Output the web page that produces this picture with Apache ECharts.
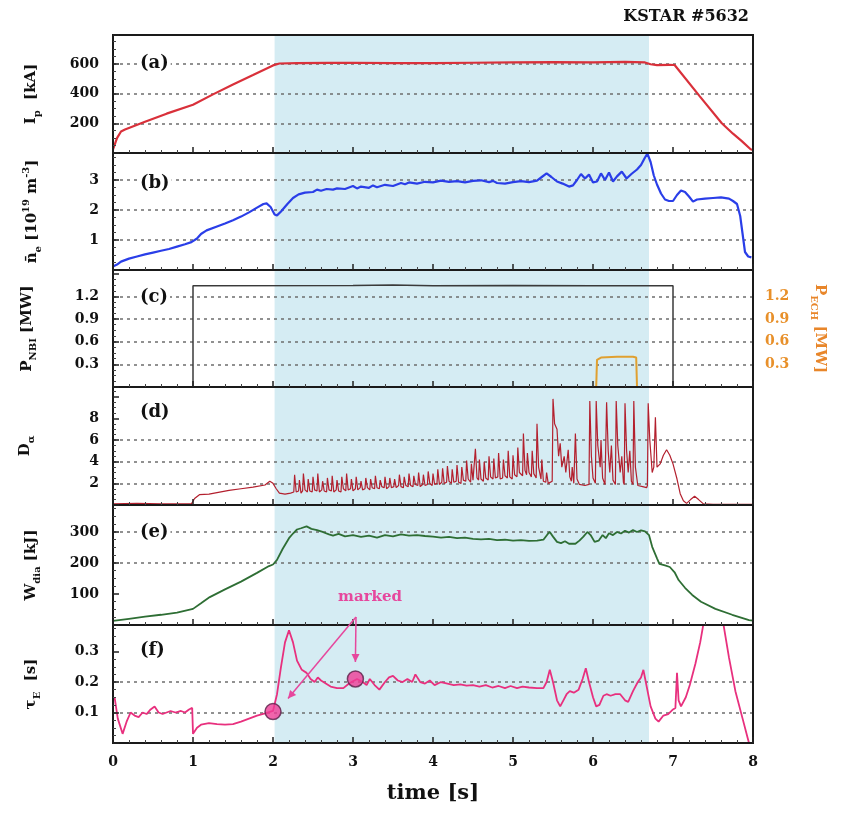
<!DOCTYPE html>
<html><head><meta charset="utf-8">
<script src="https://cdn.jsdelivr.net/npm/echarts@6/dist/echarts.min.js"></script>
<style>html,body{margin:0;padding:0;background:#fff}#c{width:864px;height:831px}</style>
</head><body><div id="c"></div>
<script>
// ---------------- DATA ----------------
const hModeWindow = [2.02, 6.7];
const ipData = [[0,25],[0.05,100],[0.1,145],[0.15,158],[0.4,210],[0.67,265],[1.0,325],[1.25,395],[1.5,462],[1.75,525],[2.0,590],[2.08,603],[2.3,606],[2.7,607],[3.0,608],[3.5,606],[4.0,606],[4.5,608],[5.0,610],[5.5,612],[6.0,611],[6.4,614],[6.65,610],[6.72,598],[6.8,592],[6.95,594],[7.02,593],[7.33,385],[7.61,200],[7.75,130],[7.86,80],[7.97,25],[8.0,20]];
const neData = [[0,0.12],[0.05,0.18],[0.1,0.28],[0.2,0.38],[0.3,0.45],[0.4,0.52],[0.5,0.58],[0.6,0.64],[0.7,0.7],[0.8,0.78],[0.9,0.86],[0.98,0.93],[1.05,1.05],[1.1,1.2],[1.17,1.32],[1.3,1.45],[1.4,1.55],[1.5,1.66],[1.6,1.78],[1.7,1.92],[1.8,2.08],[1.88,2.2],[1.92,2.22],[1.97,2.1],[2.02,1.85],[2.05,1.82],[2.1,1.95],[2.18,2.2],[2.25,2.4],[2.32,2.52],[2.4,2.58],[2.5,2.6],[2.55,2.68],[2.6,2.64],[2.67,2.7],[2.75,2.68],[2.8,2.72],[2.9,2.7],[3.0,2.8],[3.05,2.72],[3.1,2.78],[3.2,2.74],[3.25,2.82],[3.3,2.76],[3.4,2.84],[3.5,2.8],[3.6,2.9],[3.65,2.86],[3.7,2.92],[3.8,2.88],[3.9,2.94],[4.0,2.92],[4.1,2.98],[4.2,2.94],[4.3,2.96],[4.4,2.92],[4.5,2.97],[4.6,2.99],[4.7,2.93],[4.75,2.97],[4.8,2.9],[4.9,2.88],[5.0,2.93],[5.1,2.96],[5.2,2.93],[5.3,2.98],[5.36,3.1],[5.42,3.22],[5.48,3.1],[5.55,2.95],[5.62,2.88],[5.7,2.78],[5.75,2.82],[5.8,3.0],[5.85,3.2],[5.9,3.05],[5.95,3.18],[6.0,2.92],[6.05,2.95],[6.1,3.22],[6.15,3.0],[6.2,3.25],[6.25,2.95],[6.3,3.12],[6.36,3.28],[6.42,3.05],[6.48,3.2],[6.55,3.35],[6.6,3.5],[6.65,3.75],[6.68,3.88],[6.72,3.6],[6.76,3.15],[6.8,2.85],[6.85,2.55],[6.9,2.35],[6.95,2.3],[7.0,2.3],[7.05,2.5],[7.1,2.65],[7.15,2.6],[7.2,2.45],[7.25,2.28],[7.3,2.35],[7.4,2.38],[7.5,2.4],[7.6,2.42],[7.7,2.38],[7.75,2.3],[7.8,2.2],[7.84,1.8],[7.87,1.2],[7.9,0.6],[7.94,0.45],[7.98,0.42]];
const nbiData = [[0,0],[1.0,0],[1.0,1.34],[3.0,1.345],[3.5,1.35],[4.0,1.34],[5.0,1.345],[6.0,1.34],[7.0,1.34],[7.0,0],[8,0]];
const echData = [[6.04,0],[6.05,0.36],[6.1,0.39],[6.3,0.40],[6.5,0.40],[6.54,0.39],[6.55,0]];
const daData = [[0,0.1],[0.3,0.15],[0.6,0.1],[0.98,0.1],[1.02,0.6],[1.08,0.95],[1.2,1.0],[1.3,1.15],[1.45,1.35],[1.6,1.5],[1.75,1.65],[1.9,1.85],[1.96,2.2],[2.0,2.0],[2.04,1.5],[2.08,1.1],[2.15,1.0],[2.22,1.1],
[2.26,1.2],[2.27,2.8],[2.29,1.2],[2.32,1.3],[2.33,2.3],[2.35,1.1],[2.37,1.3],[2.38,2.9],[2.4,1.4],[2.43,1.2],[2.44,2.4],[2.46,1.3],[2.49,1.2],[2.5,2.6],[2.52,1.4],[2.55,1.3],[2.56,2.9],[2.58,1.2],[2.61,1.4],[2.62,2.2],[2.64,1.3],[2.67,1.2],[2.68,2.5],[2.7,1.4],[2.73,1.3],[2.74,2.7],[2.76,1.2],[2.79,1.4],[2.8,2.3],[2.82,1.3],[2.85,1.2],[2.86,2.6],[2.88,1.5],[2.91,1.3],[2.92,2.9],[2.94,1.4],[2.97,1.5],[2.98,2.4],[3.0,1.3],
[3.03,1.5],[3.04,2.6],[3.06,1.4],[3.09,1.6],[3.1,2.2],[3.12,1.4],[3.15,1.5],[3.16,2.5],[3.18,1.6],[3.21,1.4],[3.22,2.4],[3.24,1.6],[3.27,1.5],[3.28,2.7],[3.3,1.6],[3.33,1.5],[3.34,2.3],[3.36,1.7],[3.39,1.6],[3.4,2.6],[3.42,1.5],[3.45,1.7],[3.46,2.5],[3.48,1.6],[3.51,1.7],[3.52,2.4],[3.54,1.6],[3.57,1.8],[3.58,2.8],[3.6,1.7],[3.63,1.6],[3.64,2.6],[3.66,1.8],[3.69,1.7],[3.7,2.9],[3.72,1.8],[3.75,1.7],[3.76,2.7],[3.78,1.9],[3.81,1.8],[3.82,3.0],[3.84,1.7],[3.87,1.9],[3.88,2.8],[3.9,1.8],[3.93,1.9],[3.94,3.1],[3.96,2.0],[3.99,1.8],[4.0,2.9],[4.02,1.9],
[4.05,2.0],[4.06,3.3],[4.08,1.9],[4.11,2.1],[4.12,3.4],[4.14,2.0],[4.17,2.1],[4.18,3.6],[4.2,2.2],[4.23,2.0],[4.24,3.3],[4.26,2.1],[4.29,2.2],[4.3,3.7],[4.32,2.1],[4.35,2.0],[4.36,3.5],[4.38,2.3],[4.41,2.2],[4.42,4.1],[4.44,2.4],[4.47,2.1],[4.48,3.8],[4.5,2.3],[4.52,2.2],[4.53,5.2],[4.55,2.5],[4.57,2.3],[4.58,4.2],[4.6,2.4],[4.63,2.2],[4.64,4.0],[4.66,2.5],[4.69,2.3],[4.7,4.5],[4.72,2.6],[4.75,2.4],[4.76,4.3],[4.78,2.5],[4.81,2.6],[4.82,4.8],[4.84,2.4],[4.87,2.5],[4.88,4.2],[4.9,2.7],[4.93,2.5],[4.94,5.0],[4.96,2.6],[4.99,2.4],[5.0,4.6],[5.02,2.8],
[5.05,2.6],[5.06,5.3],[5.08,3.0],[5.12,2.7],[5.13,6.6],[5.15,3.2],[5.17,2.8],[5.18,4.8],[5.2,3.0],[5.23,2.6],[5.24,5.0],[5.26,2.9],[5.29,2.5],[5.3,7.5],[5.32,3.5],[5.35,2.4],[5.36,4.2],[5.38,2.2],[5.41,2.1],[5.42,3.0],[5.44,2.0],[5.49,2.2],[5.5,9.8],[5.52,7.5],[5.55,7.0],[5.57,4.5],[5.59,5.7],[5.61,3.5],[5.64,4.5],[5.66,3.0],[5.69,5.1],[5.71,2.6],[5.73,2.2],[5.74,3.5],[5.76,2.0],[5.77,2.1],[5.78,6.6],[5.8,2.4],[5.83,1.9],[5.9,1.8],[5.95,1.9],
[5.96,9.6],[5.98,4.5],[6.0,2.5],[6.03,2.0],[6.04,9.6],[6.06,5.5],[6.09,3.5],[6.1,6.0],[6.12,2.5],[6.15,1.9],[6.17,9.5],[6.19,5.0],[6.21,3.0],[6.23,5.5],[6.25,2.3],[6.28,1.9],[6.29,9.6],[6.31,5.5],[6.34,3.0],[6.36,4.5],[6.38,2.1],[6.39,1.9],[6.4,9.4],[6.42,5.0],[6.44,3.0],[6.46,5.0],[6.48,2.2],[6.5,1.9],[6.51,9.6],[6.53,3.5],[6.56,1.8],[6.62,1.7],[6.67,1.6],[6.68,1.8],[6.69,9.4],[6.71,6.0],[6.72,5.0],[6.74,3.0],[6.76,3.5],[6.78,8.1],[6.8,3.5],
[6.84,3.8],[6.88,4.6],[6.92,5.1],[6.96,4.6],[7.0,3.8],[7.05,2.4],[7.09,1.05],[7.13,0.4],[7.17,0.15],[7.22,0.5],[7.27,0.8],[7.32,0.5],[7.38,0.1],[7.5,0.05],[8.0,0.05]];
const wData = [[0,13],[0.2,20],[0.4,27],[0.6,33],[0.8,40],[1.0,52],[1.1,70],[1.21,90],[1.4,115],[1.6,140],[1.8,168],[1.95,190],[2.0,195],[2.05,210],[2.12,245],[2.2,280],[2.25,295],[2.3,308],[2.35,312],[2.42,318],[2.48,310],[2.55,306],[2.62,300],[2.7,292],[2.75,288],[2.82,294],[2.9,286],[3.0,290],[3.1,284],[3.2,288],[3.3,282],[3.4,290],[3.5,286],[3.6,292],[3.7,288],[3.8,290],[3.9,287],[4.0,285],[4.1,282],[4.2,284],[4.3,280],[4.4,282],[4.5,278],[4.6,276],[4.7,278],[4.8,274],[4.9,275],[5.0,272],[5.1,274],[5.2,271],[5.3,272],[5.38,275],[5.43,292],[5.46,300],[5.5,285],[5.55,268],[5.6,264],[5.65,270],[5.7,262],[5.78,262],[5.83,272],[5.88,285],[5.93,300],[5.97,290],[6.02,268],[6.07,272],[6.12,290],[6.16,280],[6.2,296],[6.25,290],[6.3,300],[6.35,295],[6.4,304],[6.45,298],[6.5,306],[6.55,300],[6.6,305],[6.65,302],[6.7,290],[6.74,252],[6.8,215],[6.83,197],[6.9,192],[6.96,187],[7.02,170],[7.07,145],[7.15,120],[7.24,97],[7.35,75],[7.53,52],[7.74,33],[7.95,16],[8.0,14]];
const tauData = [[0.02,0.15],[0.06,0.08],[0.12,0.03],[0.17,0.07],[0.22,0.1],[0.27,0.09],[0.32,0.085],[0.37,0.1],[0.42,0.095],[0.47,0.11],[0.52,0.12],[0.57,0.1],[0.62,0.095],[0.67,0.1],[0.72,0.105],[0.78,0.1],[0.85,0.105],[0.9,0.1],[0.95,0.11],[0.99,0.115],[1.0,0.03],[1.05,0.05],[1.1,0.06],[1.2,0.065],[1.3,0.062],[1.4,0.06],[1.5,0.062],[1.6,0.07],[1.7,0.08],[1.8,0.09],[1.9,0.097],[2.0,0.105],[2.05,0.16],[2.1,0.25],[2.15,0.33],[2.2,0.37],[2.25,0.33],[2.3,0.27],[2.36,0.24],[2.42,0.23],[2.47,0.21],[2.52,0.2],[2.56,0.215],[2.6,0.205],[2.66,0.195],[2.72,0.185],[2.8,0.18],[2.88,0.18],[2.95,0.195],[3.05,0.21],[3.12,0.2],[3.17,0.19],[3.21,0.21],[3.27,0.19],[3.33,0.175],[3.4,0.2],[3.45,0.215],[3.5,0.22],[3.56,0.205],[3.62,0.2],[3.68,0.21],[3.74,0.2],[3.78,0.225],[3.84,0.2],[3.9,0.195],[3.96,0.205],[4.02,0.19],[4.1,0.2],[4.18,0.195],[4.26,0.19],[4.34,0.192],[4.42,0.188],[4.5,0.19],[4.58,0.185],[4.66,0.19],[4.74,0.182],[4.82,0.187],[4.9,0.18],[4.97,0.187],[5.05,0.18],[5.12,0.185],[5.2,0.182],[5.3,0.18],[5.38,0.18],[5.42,0.2],[5.46,0.24],[5.5,0.2],[5.55,0.14],[5.59,0.12],[5.63,0.14],[5.67,0.16],[5.71,0.17],[5.76,0.165],[5.82,0.175],[5.87,0.21],[5.91,0.245],[5.95,0.2],[6.0,0.15],[6.04,0.12],[6.08,0.125],[6.13,0.155],[6.17,0.16],[6.22,0.155],[6.28,0.16],[6.34,0.16],[6.4,0.14],[6.44,0.135],[6.5,0.17],[6.56,0.2],[6.6,0.215],[6.63,0.24],[6.66,0.2],[6.72,0.12],[6.78,0.08],[6.82,0.07],[6.88,0.09],[6.94,0.095],[7.0,0.11],[7.03,0.115],[7.05,0.23],[7.07,0.14],[7.1,0.12],[7.16,0.15],[7.21,0.19],[7.28,0.26],[7.34,0.33],[7.38,0.39],[7.45,0.47],[7.52,0.5],[7.58,0.45],[7.63,0.39],[7.7,0.28],[7.78,0.17],[7.87,0.08],[7.93,0.02],[7.97,-0.02]];
const markedPoints = [[2.0,0.103],[3.03,0.21]];

const yMin = [0,0,0,0,0,0];
const yMax = [795,3.9,1.55,10.9,387,0.387];
const yInterval = [200,1,0.3,2,100,0.1];
const yTickLabels = [[200,400,600],[1,2,3],[0.3,0.6,0.9,1.2],[2,4,6,8],[100,200,300],[0.1,0.2,0.3]];
const yGridValues = [[200,400,600],[1,2,3],[0.3,0.6,0.9,1.2],[2,4,6],[200,300],[0.1,0.2]];
const echTickLabels = [0.3,0.6,0.9,1.2];
const panelLetters = ['(a)','(b)','(c)','(d)','(e)','(f)'];
const yNames = [
  '{b|I}{s|p}{b|  [kA]}',
  '{b|n\u0304}{s|e}{b| [10}{p|19}{b| m}{p|-3}{b|]}',
  '{b|P}{s|NBI}{b| [MW]}',
  '{b|D}{s|\u03b1}',
  '{b|W}{s|dia}{b| [kJ]}',
  '{b|\u03c4}{s|E}{b|  [s]}'
];

// ---------------- LAYOUT / STYLE ----------------
const FONT = "'DejaVu Serif', 'Liberation Serif', serif";
const tops = [35,153,270,387,505,625];
const bottoms = [153,270,387,505,625,743];
const nameGaps = [71,70,75,77,71,71];
const labelY = [63,183,297,412,532,650];
const shade = '#d5ecf3';
const gridLineStyle = {type:[3,4], color:'#6e6e6e', width:1.5};

const chart = echarts.init(document.getElementById('c'), null, {renderer:'canvas'});
const fmt = (labels) => (v) => {
  const m = labels.find(l => Math.abs(l - v) < 1e-6);
  return m === undefined ? '' : String(m);
};
const rich = {
  b:{fontFamily:FONT,fontWeight:'bold',fontSize:15,color:'#111',lineHeight:22},
  s:{fontFamily:FONT,fontWeight:'bold',fontSize:10,color:'#111',lineHeight:10,verticalAlign:'bottom'},
  p:{fontFamily:FONT,fontWeight:'bold',fontSize:10,color:'#111',lineHeight:10,verticalAlign:'top'},
  o:{fontFamily:FONT,fontWeight:'bold',fontSize:15,color:'#e8862a',lineHeight:22},
  os:{fontFamily:FONT,fontWeight:'bold',fontSize:10,color:'#e8862a',lineHeight:10,verticalAlign:'bottom'}
};

const grids = tops.map((t,i)=>({left:113,right:111,top:t,height:bottoms[i]-t,show:true,
  borderColor:'#1a1a1a',borderWidth:2,backgroundColor:'transparent',z:10}));
const xAxes = tops.map((t,i)=>({gridIndex:i,type:'value',min:0,max:8,interval:1,z:10,
  axisLine:{show:false},
  axisTick:{show:true,inside:true,length:6,lineStyle:{color:'#222',width:1.5}},
  minorTick:{show:true,splitNumber:5,length:3,lineStyle:{color:'#444',width:1}},
  splitLine:{show:false},
  axisLabel:{show:i===5,fontFamily:FONT,fontWeight:'bold',fontSize:14,color:'#111',margin:12},
  name: i===5 ? 'time [s]' : '', nameLocation:'middle', nameGap:40,
  nameTextStyle:{fontFamily:FONT,fontWeight:'bold',fontSize:21,color:'#111'}
}));
const yAxes = tops.map((t,i)=>({gridIndex:i,type:'value',min:yMin[i],max:yMax[i],interval:yInterval[i],z:10,
  axisLine:{show:false},
  axisTick:{show:true,inside:true,length:6,lineStyle:{color:'#222',width:1.5}},
  minorTick:{show:true,splitNumber:4,length:3,lineStyle:{color:'#444',width:1}},
  splitLine:{show:false},
  axisLabel:{formatter:fmt(yTickLabels[i]),fontFamily:FONT,fontWeight:'bold',fontSize:14,color:'#111',margin:14},
  name:yNames[i],nameLocation:'middle',nameRotate:90,nameGap:nameGaps[i],
  nameTextStyle:{rich:rich}
}));
yAxes.push({gridIndex:2,type:'value',position:'right',min:0,max:1.55,interval:0.3,
  axisLine:{show:false},axisTick:{show:false},splitLine:{show:false},
  axisLabel:{formatter:fmt(echTickLabels),fontFamily:FONT,fontWeight:'bold',fontSize:14,color:'#e8902a',margin:12},
  name:'{o|P}{os|ECH}{o| [MW]}',nameLocation:'middle',nameRotate:-90,nameGap:56,
  nameTextStyle:{rich:rich}
});

function panelSeries(i, data, color, width){
  return {type:'line',xAxisIndex:i,yAxisIndex:i,data:data,showSymbol:false,z:3,
    lineStyle:{color:color,width:width},itemStyle:{color:color},
    markArea:{silent:true,z:1,itemStyle:{color:shade},data:[[{xAxis:hModeWindow[0]},{xAxis:hModeWindow[1]}]]},
    markLine:{silent:true,z:2,symbol:'none',label:{show:false},lineStyle:gridLineStyle,
      data:yGridValues[i].map(v=>({yAxis:v}))}
  };
}

const series = [
  panelSeries(0, ipData, '#d9303a', 2.2),
  panelSeries(1, neData, '#2a3ee8', 2.2),
  panelSeries(2, nbiData, '#3a3a3a', 1.5),
  {type:'line',xAxisIndex:2,yAxisIndex:6,data:echData,showSymbol:false,z:4,lineStyle:{color:'#e0a030',width:2}},
  panelSeries(3, daData, '#b3202e', 1.2),
  panelSeries(4, wData, '#2e6e34', 1.8),
  panelSeries(5, tauData, '#e8307e', 1.8),
  {type:'scatter',xAxisIndex:5,yAxisIndex:5,data:markedPoints,symbolSize:16,z:20,clip:false,
    itemStyle:{color:'#ee3d96',borderColor:'#5a2048',borderWidth:1.5}}
];

chart.setOption({animation:false,backgroundColor:'#fff',grid:grids,xAxis:xAxes,yAxis:yAxes,series:series});

// ---------------- ANNOTATIONS ----------------
const graphics = [];
panelLetters.forEach((s,i)=>{
  graphics.push({type:'text',x:138,y:labelY[i],z:100,
    style:{text:s,font:"bold 18px "+FONT,fill:'#111',textVerticalAlign:'middle',
      backgroundColor:'#fff',padding:[0,2]}});
});
graphics.push({type:'text',x:749,y:17,z:100,style:{text:'KSTAR #5632',font:"bold 16px "+FONT,fill:'#111',textAlign:'right',textVerticalAlign:'middle'}});
graphics.push({type:'text',x:370,y:597,z:100,style:{text:'marked',font:"bold 15px "+FONT,fill:'#e6479d',textAlign:'center',textVerticalAlign:'middle'}});
const p1 = chart.convertToPixel({gridIndex:5}, markedPoints[0]);
const p2 = chart.convertToPixel({gridIndex:5}, markedPoints[1]);
const origin = [356, 617];
const ends = [[p1[0]+15, p1[1]-13],[p2[0], p2[1]-17]];
const acol = '#e6479d';
ends.forEach(e=>{
  graphics.push({type:'line',z:100,shape:{x1:origin[0],y1:origin[1],x2:e[0],y2:e[1]},style:{stroke:acol,lineWidth:1.5}});
  const dx=e[0]-origin[0], dy=e[1]-origin[1], L=Math.hypot(dx,dy);
  const ux=dx/L, uy=dy/L, hl=8, hw=4;
  const bx=e[0]-ux*hl, by=e[1]-uy*hl;
  graphics.push({type:'polygon',z:100,shape:{points:[[e[0],e[1]],[bx-uy*hw,by+ux*hw],[bx+uy*hw,by-ux*hw]]},style:{fill:acol}});
});
chart.setOption({graphic:graphics});
</script></body></html>
